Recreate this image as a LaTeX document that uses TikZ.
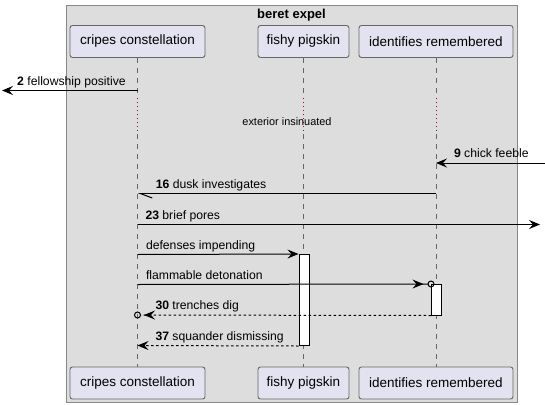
\documentclass[tikz,border=0pt]{standalone}
\usepackage{fontspec}
\setmainfont{Liberation Sans}
\usepackage{xcolor}
\usepackage{tikz}
\usetikzlibrary{arrows.meta,positioning,calc}

\definecolor{boxgray}{HTML}{DDDDDD}
\definecolor{boxline}{HTML}{888888}
\definecolor{partfill}{HTML}{E2E2F0}
\definecolor{partline}{HTML}{666666}
\definecolor{delayred}{HTML}{A80036}

\begin{document}
\begin{tikzpicture}[x=1pt, y=-1pt, line width=1pt, every node/.style={font=\fontsize{12.2}{14}\selectfont, inner sep=0pt}, part/.style={draw=partline, line width=0.9pt, fill=partfill, rounded corners=2.5pt, minimum height=32pt, font=\fontsize{13.5}{16}\selectfont}, life/.style={draw=partline, line width=0.8pt, dash pattern=on 5pt off 5pt}, delay/.style={draw=delayred, line width=0.9pt, dash pattern=on 1pt off 3pt}, msg/.style={-{Stealth[length=11pt,width=9pt,inset=4pt]}}, ret/.style={dash pattern=on 2.5pt off 2.5pt}, act/.style={draw, fill=white, minimum width=10pt}, lab/.style={anchor=base west}]
    \useasboundingbox (0,0) rectangle (545,404);
    \draw[draw=boxline, fill=boxgray] (66,6) rectangle (517,402);
    \node[font=\bfseries\fontsize{13}{15}\selectfont] (title) at (291.5,15) {beret expel};
    \foreach \n/\x/\w/\t in {cc/137.5/135/cripes constellation, fp/303.5/91/fishy pigskin, ir/436/154/identifies remembered}{
      \node[part, minimum width=\w pt] (\n top) at (\x,41.5) {\t};
      \node[part, minimum width=\w pt] (\n bot) at (\x,383) {\t};
    }
    \coordinate (dtop) at (0,98);
    \coordinate (dbot) at (0,134);
    \foreach \n in {cc,fp,ir}{
      \draw[life] (\n top.south) -- (\n top |- dtop);
      \draw[delay] (\n top |- dtop) -- (\n top |- dbot);
      \draw[life] (\n top |- dbot) -- (\n bot.north);
    }
    \node[font=\fontsize{10.9}{13}\selectfont] (dtext) at (287,121.5) {exterior insinuated};
    \foreach \r/\y in {2/90.5, 9/163, 16/193.5, 23/224.5, dp/254.5, fd/284.5, 30/315, 37/345.5}{
      \coordinate (y\r) at (0,\y);
    }
    \coordinate (west2) at (2,90.5);
    \coordinate (east9) at (545,163);
    \coordinate (east23) at (540,224.5);
    \node[act, minimum height=91pt] (fpact) at (304,300) {};
    \node[act, minimum height=30.5pt] (iract) at (436.5,299.75) {};
    \draw[msg] (cctop |- y2) -- (west2);
    \node[lab] (l2) at (16.7,85) {\textbf{2} fellowship positive};
    \draw[msg] (east9) -- (irtop |- y9);
    \node[lab] (l9) at (453.5,157.5) {\textbf{9} chick feeble};
    \draw[-{Straight Barb[left,length=12pt,width=9pt]}] (irtop |- y16) -- (cctop |- y16);
    \node[lab] (l16) at (155.3,188) {\textbf{16} dusk investigates};
    \draw[msg] (cctop |- y23) -- (east23);
    \node[lab] (l23) at (145,219) {\textbf{23} brief pores};
    \draw[msg] (cctop |- ydp) -- (fpact.north west);
    \node[lab] (ldp) at (145.5,249) {defenses impending};
    \draw[-{Stealth[length=11pt,width=9pt,inset=4pt,sep=4pt] Circle[open,length=7pt]}] (cctop |- yfd) -- ($(iract.north west)+(3.5,0)$);
    \node[lab] (lfd) at (145.5,279) {flammable detonation};
    \draw[ret, -{Stealth[length=11pt,width=9pt,inset=4pt,sep=3pt] Circle[open,length=7pt]}] (iract.south west) -- ($(cctop |- y30)+(-3.5,0)$);
    \node[lab] (l30) at (155,309.5) {\textbf{30} trenches dig};
    \draw[ret, msg] (fpact.south west) -- (cctop |- y37);
    \node[lab] (l37) at (155,340) {\textbf{37} squander dismissing};
\end{tikzpicture}
\end{document}
